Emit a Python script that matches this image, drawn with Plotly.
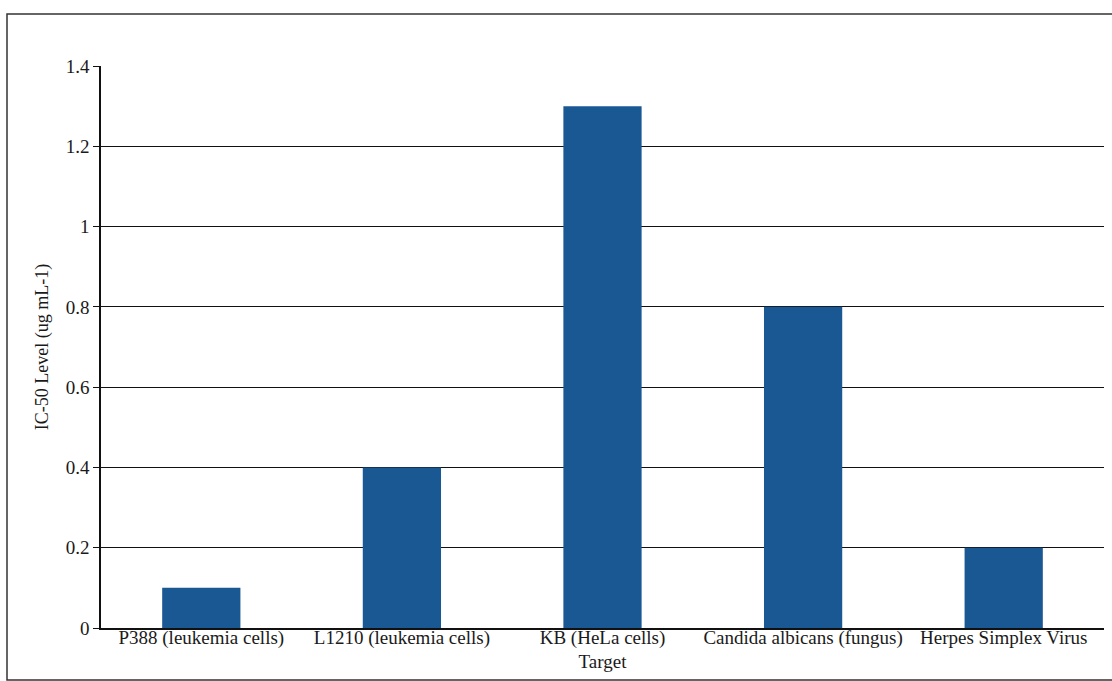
import plotly.graph_objects as go

categories = ["P388 (leukemia cells)", "L1210 (leukemia cells)", "KB (HeLa cells)<br>Target",
              "Candida albicans (fungus)", "Herpes Simplex Virus"]
ic50_values = [0.1, 0.4, 1.3, 0.8, 0.2]
y_tick_values = [0, 0.2, 0.4, 0.6, 0.8, 1, 1.2, 1.4]
y_tick_labels = ["0", "0.2", "0.4", "0.6", "0.8", "1", "1.2", "1.4"]

W, H = 1112, 681
ml, mr, mt, mb = 101, 8, 66, 53
pw, ph = W - ml - mr, H - mt - mb

fig = go.Figure(go.Bar(x=categories, y=ic50_values, marker=dict(color="#1A5893", line_width=0),
                       width=0.39))

font = dict(family="Liberation Serif, Times New Roman, serif", size=19, color="#1a1a1a")
tfont = dict(family="Liberation Serif, Times New Roman, serif", size=18, color="#1a1a1a")

fig.update_layout(
    width=W, height=H, margin=dict(l=ml, r=mr, t=mt, b=mb),
    paper_bgcolor="white", plot_bgcolor="white", font=font, showlegend=False,
    xaxis=dict(showline=True, linecolor="#111", linewidth=1.5, ticks="", showgrid=False,
               tickfont=font, automargin=False, ticklabelstandoff=-9),
    yaxis=dict(range=[0, 1.4], tickvals=y_tick_values, ticktext=y_tick_labels,
               showline=True, linecolor="#111", linewidth=1.5, ticks="outside", ticklen=6,
               tickcolor="#111", showgrid=True, gridcolor="#111", gridwidth=1.2,
               zeroline=False, tickfont=font, automargin=False,
               title=dict(text="IC-50 Level (ug mL-1)", font=tfont, standoff=12)),
)

# outer chart frame
top_y = 1 + (mt - 14) / ph
bot_y = -(H - 1 - (H - mb)) / ph
left_x = (7 - ml) / pw
right_x = (W - ml) / pw
fig.add_shape(type="path", xref="paper", yref="paper",
              path=f"M {right_x},{top_y} L {left_x},{top_y} L {left_x},{bot_y} L {right_x},{bot_y}",
              line=dict(color="#333", width=1.5))

fig.write_html("out.html")
